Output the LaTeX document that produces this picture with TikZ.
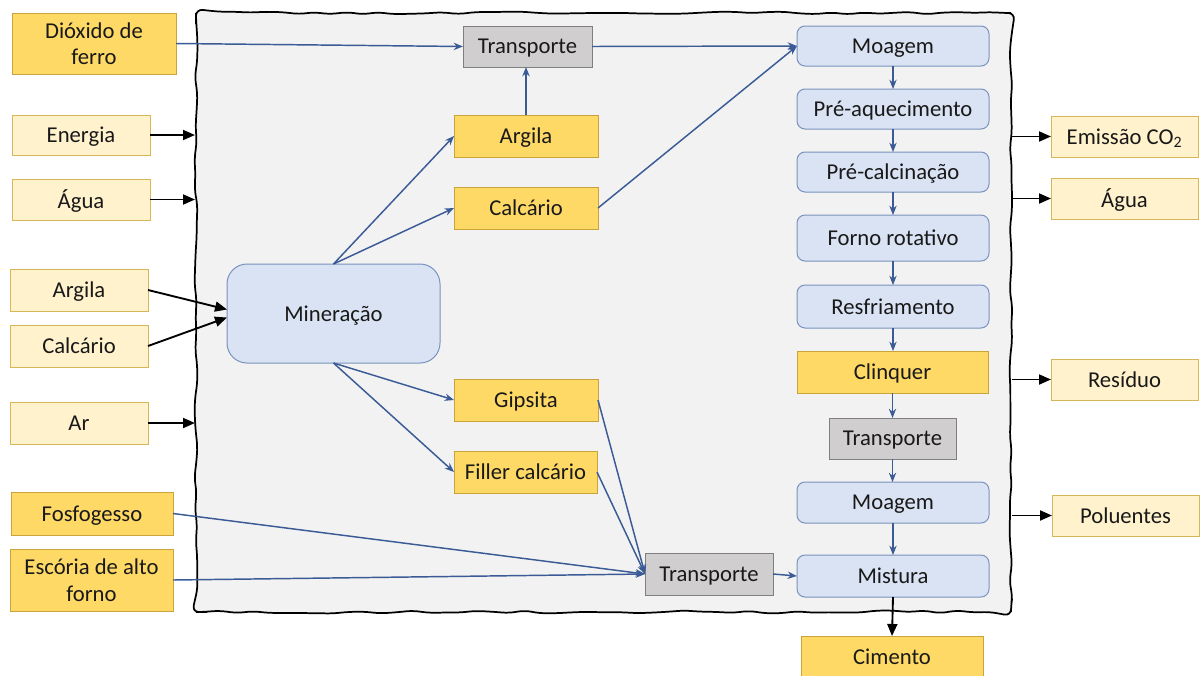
\documentclass[tikz,border=0pt]{standalone}
\usepackage{fontspec}
\setmainfont{Carlito}
\usetikzlibrary{arrows.meta,decorations.pathmorphing,calc}

\definecolor{gold}{HTML}{FFD966}
\definecolor{goldline}{HTML}{C9A43A}
\definecolor{cream}{HTML}{FFF2CC}
\definecolor{creamline}{HTML}{D6B656}
\definecolor{pale}{HTML}{DAE3F3}
\definecolor{paleline}{HTML}{7A93BE}
\definecolor{grayfill}{HTML}{D0CECE}
\definecolor{grayline}{HTML}{7F7F7F}
\definecolor{flow}{HTML}{3A5B96}
\definecolor{panel}{HTML}{F2F2F2}

% box by its corners: style, name, x1, y1, x2, y2, text
\newcommand\pbox[7]{\node[#1, minimum width={(#5-#3)*0.75pt}, minimum height={(#6-#4)*0.75pt}] (#2) at ({(#3+#5)/2},{(#4+#6)/2}) {#7};}

\tikzset{
  box/.style={inner sep=1pt, outer sep=0pt, align=center, line width=0.75pt,
    font=\fontsize{17}{20}\selectfont, text=black!90, text depth=0pt},
  rawbox/.style={box, fill=gold, draw=goldline},
  inbox/.style={box, fill=cream, draw=creamline},
  stepbox/.style={box, fill=pale, draw=paleline, rounded corners=6pt},
  minebox/.style={box, fill=pale, draw=paleline, rounded corners=15pt},
  mover/.style={box, fill=grayfill, draw=grayline},
  flowarrow/.style={draw=flow, line width=1.1pt, -{Stealth[length=7pt,width=5.5pt]}},
  io/.style={draw=black, line width=1.4pt, -{Triangle[length=9pt,width=7.5pt]}},
}

\begin{document}
\begin{tikzpicture}[x=0.75pt,y=-0.75pt]
\useasboundingbox (0,0) rectangle (1202,675);

% hand-drawn process boundary
\pgfmathsetseed{11}
\draw[fill=panel, line width=1.3pt, rounded corners=5pt, decorate,
      decoration={random steps, segment length=12pt, amplitude=1.2pt}]
  (600,13) -- (1011,13) -- (1011,612) -- (196,612) -- (196,13) -- cycle;
\coordinate (edgeL) at (195,0);
\coordinate (edgeR) at (1012,0);

% inputs
\pbox{rawbox}{dioxido}{12}{13}{176}{74}{Dióxido de\\ferro}
\pbox{inbox}{energia}{12}{115}{150}{155}{Energia}
\pbox{inbox}{agua}{12}{179}{150}{220}{Água}
\pbox{inbox}{argila}{10}{269}{148}{311}{Argila}
\pbox{inbox}{calcario}{10}{325}{148}{367}{Calcário}
\pbox{inbox}{ar}{10}{402}{148}{444}{Ar}
\pbox{rawbox}{fosfo}{11}{492}{173}{535}{Fosfogesso}
\pbox{rawbox}{escoria}{10}{549}{173}{611}{Escória de alto\\forno}

% raw materials and transport
\pbox{mover}{tTop}{463}{26}{592}{67}{Transporte}
\pbox{rawbox}{argilaI}{454}{115}{598}{157}{Argila}
\pbox{rawbox}{calcI}{454}{187}{598}{229}{Calcário}
\pbox{minebox}{miner}{227}{264}{440}{363}{Mineração}
\pbox{rawbox}{gipsita}{454}{379}{598}{421}{Gipsita}
\pbox{rawbox}{filler}{454}{451}{597}{493}{Filler calcário}
\pbox{mover}{tBot}{645}{553}{773}{595}{Transporte}

% production line
\pbox{stepbox}{moag1}{797}{26}{989}{66}{Moagem}
\pbox{stepbox}{preaq}{797}{89}{989}{129}{Pré-aquecimento}
\pbox{stepbox}{precal}{797}{152}{989}{192}{Pré-calcinação}
\pbox{stepbox}{forno}{797}{215}{989}{261}{Forno rotativo}
\pbox{stepbox}{resf}{797}{285}{989}{328}{Resfriamento}
\pbox{rawbox}{clinq}{797}{351}{988}{393}{Clinquer}
\pbox{mover}{tMid}{829}{418}{956}{459}{Transporte}
\pbox{stepbox}{moag2}{797}{482}{989}{523}{Moagem}
\pbox{stepbox}{mist}{797}{555}{989}{597}{Mistura}
\pbox{rawbox}{cimento}{801}{636}{983}{678}{Cimento}

% outputs
\pbox{inbox}{emis}{1051}{116}{1198}{157}{Emissão CO\textsubscript{2}}
\pbox{inbox}{aguaOut}{1051}{178}{1198}{219}{Água}
\pbox{inbox}{residuo}{1051}{359}{1198}{400}{Resíduo}
\pbox{inbox}{poluentes}{1052}{495}{1199}{536}{Poluentes}

% material flows
\draw[flowarrow] (dioxido.east) -- (tTop.west);
\draw[flowarrow] (tTop.east) -- (moag1.west);
\draw[flowarrow] (argilaI.north) -- (argilaI.north |- tTop.south);
\draw[flowarrow] (calcI.east) -- (moag1.west);
\draw[flowarrow] (miner.north) -- (argilaI.west);
\draw[flowarrow] (miner.north) -- (calcI.west);
\draw[flowarrow] (miner.south) -- (gipsita.west);
\draw[flowarrow] (miner.south) -- (filler.west);
\draw[flowarrow] (gipsita.east) -- (tBot.west);
\draw[flowarrow] (filler.east) -- (tBot.west);
\draw[flowarrow] (fosfo.east) -- (tBot.west);
\draw[flowarrow] (escoria.east) -- (tBot.west);
\draw[flowarrow] (tBot.east) -- (mist.west);
\foreach \a/\b in {moag1/preaq, preaq/precal, precal/forno, forno/resf,
                   resf/clinq, clinq/tMid, tMid/moag2, moag2/mist}
  \draw[flowarrow] (\a.south) -- (\a.south |- \b.north);

% inputs and outputs across the boundary
\draw[io] (energia.east) -- (energia.east -| edgeL);
\draw[io] (agua.east) -- (agua.east -| edgeL);
\draw[io] (ar.east) -- (ar.east -| edgeL);
\draw[io] (argila.east) -- ([yshift=3pt]miner.west);
\draw[io] (calcario.east) -- ([yshift=-3pt]miner.west);
\draw[io] (emis.west -| edgeR) -- (emis.west);
\draw[io] (aguaOut.west -| edgeR) -- (aguaOut.west);
\draw[io] (residuo.west -| edgeR) -- (residuo.west);
\draw[io] (poluentes.west -| edgeR) -- (poluentes.west);
\draw[io] (mist.south) -- (cimento.north);
\end{tikzpicture}
\end{document}
